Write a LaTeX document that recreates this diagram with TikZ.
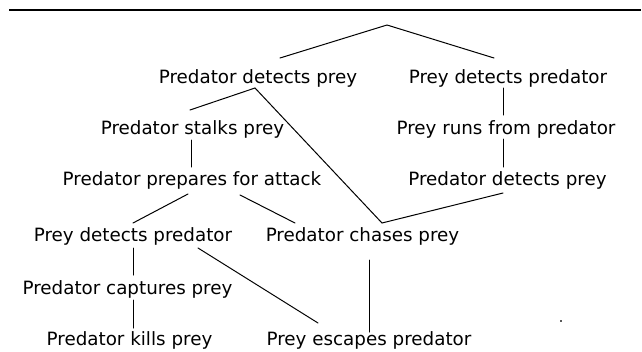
\documentclass[tikz,border=0pt]{standalone}
\usepackage{fontspec}
\setmainfont{DejaVu Sans}
\usetikzlibrary{calc}
\begin{document}
\begin{tikzpicture}[x=1pt,y=-1pt,
  lbl/.style={anchor=base,inner sep=0pt,font=\fontsize{18.3}{22}\selectfont},
  link/.style={line width=1pt,line cap=round,line join=round},
  rulebar/.style={line width=2.5pt}]
\useasboundingbox (0,0) rectangle (642,351);
\fill[white] (0,0) rectangle (642,351);

% heading rule
\coordinate (ruleL) at (9,10);
\coordinate (ruleR) at (641,10);
\draw[rulebar] (ruleL) -- (ruleR);

% events
\node[lbl] (pdp1) at (258,83.5)   {Predator detects prey};
\node[lbl] (pyd1) at (508,83.5)   {Prey detects predator};
\node[lbl] (psp)  at (192.5,134)  {Predator stalks prey};
\node[lbl] (prf)  at (506,134)    {Prey runs from predator};
\node[lbl] (ppa)  at (192,185.5)  {Predator prepares for attack};
\node[lbl] (pdp2) at (507.5,185.5){Predator detects prey};
\node[lbl] (pyd2) at (133,241.5)  {Prey detects predator};
\node[lbl] (pcp)  at (362.5,241.5){Predator chases prey};
\node[lbl] (pcap) at (127.5,294.5){Predator captures prey};
\node[lbl] (pkp)  at (129.5,345.5){Predator kills prey};
\node[lbl] (pep)  at (369,345.5)  {Prey escapes predator};

% root fork
\coordinate (apex) at (387,25);
\draw[link] ($(pdp1.base)+(22,-25.5)$) -- (apex) -- ($(pyd1.base)+(-14,-25.5)$);

% junctions
\coordinate (j1) at ($(pdp1.base)+(-3,4.5)$);
\coordinate (j2) at ($(pcp.base)+(19.5,-18.5)$);
\draw[link] (j1) -- ($(psp.base)+(-2.5,-24)$);
\draw[link] (j1) -- (j2);
\draw[link] ($(pdp2.base)+(-4.5,7.5)$) -- (j2);

% right branch
\draw[link] ($(pyd1.base)+(-5,4.5)$) -- ($(prf.base)+(-3,-19)$);
\draw[link] ($(prf.base)+(-3,5)$) -- ($(pdp2.base)+(-4.5,-18.5)$);

% left branch
\draw[link] ($(psp.base)+(-1.5,6)$) -- ($(ppa.base)+(-1,-18.5)$);
\draw[link] ($(ppa.base)+(-4,8.5)$) -- ($(pyd2.base)+(0,-18.5)$);
\draw[link] ($(ppa.base)+(48,9.5)$) -- ($(pcp.base)+(-67.5,-18.5)$);
\draw[link] ($(pyd2.base)+(0,6.5)$) -- ($(pcap.base)+(5.5,-19.5)$);
\draw[link] ($(pcap.base)+(5.5,5.5)$) -- ($(pkp.base)+(3.5,-17.5)$);
\draw[link] ($(pyd2.base)+(65,6.5)$) -- ($(pep.base)+(-51,-22.5)$);
\draw[link] ($(pcp.base)+(6.5,18.5)$) -- ($(pep.base)+(0,-13.5)$);

% stray mark
\coordinate (speck) at (561,321);
\fill[gray!70!black] ($(speck)+(-0.8,-0.8)$) rectangle ($(speck)+(0.8,0.8)$);
\end{tikzpicture}
\end{document}
